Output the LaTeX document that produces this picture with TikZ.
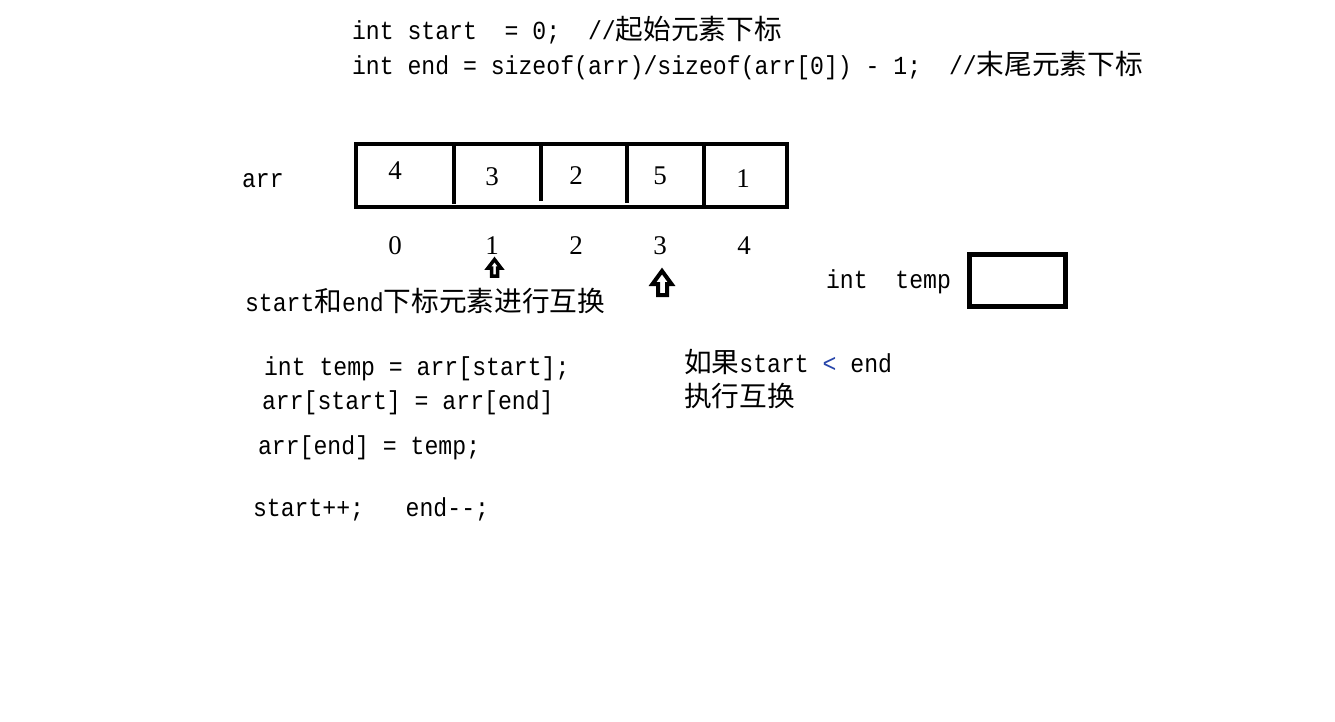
\documentclass[tikz,border=0pt]{standalone}
\usepackage{fontspec}
\setmainfont{Liberation Serif}
\setmonofont[FakeStretch=0.89]{Liberation Mono}
\newfontfamily\cjk[Scale=1.065]{Noto Sans CJK SC}
\newcommand\zh[1]{{\cjk #1}}
\newcommand\codefont{\fontsize{26}{30}\selectfont\ttfamily}
\newcommand\digitfont{\fontsize{27}{30}\selectfont\rmfamily}
\definecolor{ltblue}{RGB}{40,70,170}
\begin{document}
\begin{tikzpicture}[x=1pt,y=-1pt,
  every node/.style={inner sep=0pt, outer sep=0pt},
  code/.style={anchor=base west, font=\codefont},
  digit/.style={anchor=base, font=\digitfont},
  thickbox/.style={line width=4pt, line join=miter},
  uparrow/.style={line width=4pt, fill=white, line join=miter}]
\useasboundingbox (0,0) rectangle (1335,721);
% header code
\node[code] (l1) at (352,39) {int start\ \ = 0;\ \ //\zh{起始元素下标}};
\node[code] (l2) at (352,74) {int end = sizeof(arr)/sizeof(arr[0]) - 1;\ \ //\zh{末尾元素下标}};
% array
\node[code] (arr) at (242,187) {arr};
\draw[thickbox] (356,144) rectangle (787,207);
\draw[line width=4pt] (454,144) -- (454,204);
\draw[line width=4pt] (541,144) -- (541,201);
\draw[line width=4pt] (627,144) -- (627,203);
\draw[line width=4pt] (704,144) -- (704,207);
\node[digit] (v0) at (395,179) {4};
\node[digit] (v1) at (492,185) {3};
\node[digit] (v2) at (576,184) {2};
\node[digit] (v3) at (660,184) {5};
\node[digit] (v4) at (743,187) {1};
\node[digit] (i0) at (395,254) {0};
\node[digit] (i1) at (492,254) {1};
\node[digit] (i2) at (576,254) {2};
\node[digit] (i3) at (660,254) {3};
\node[digit] (i4) at (744,254) {4};
% pointer arrows
\draw[uparrow,line width=3.5pt] (494.5,259.5) -- (488,268) -- (491.5,268) -- (491.5,276) -- (497.5,276) -- (497.5,268) -- (501,268) -- cycle;
\draw[uparrow] (662,271) -- (652.5,284) -- (658,284) -- (658,295) -- (667,295) -- (667,284) -- (671.5,284) -- cycle;
% temp
\node[code] (tmp) at (826,288) {int\ \ temp};
\draw[line width=5pt] (969,254) rectangle (1065,306);
% swap description
\node[code] (desc) at (245,311) {start\zh{和}end\zh{下标元素进行互换}};
\node[code] (c1) at (264,375) {int temp = arr[start];};
\node[code] (c2) at (262,409) {arr[start] = arr[end]};
\node[code] (c3) at (258,454) {arr[end] = temp;};
\node[code] (c4) at (253,516) {start++;\ \ \ end--;};
\node[code] (cond) at (684,372) {\zh{如果}start {\color{ltblue}<} end};
\node[code] (swap) at (684,406) {\zh{执行互换}};
\end{tikzpicture}
\end{document}
